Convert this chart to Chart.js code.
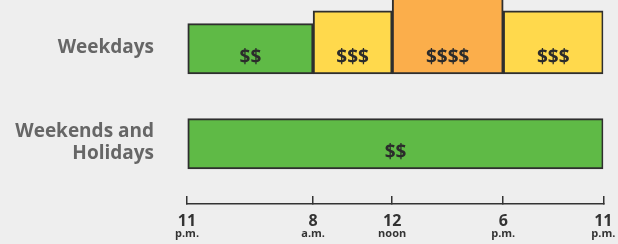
<!DOCTYPE html>
<html>
<head>
<meta charset="utf-8">
<script src="https://cdn.jsdelivr.net/npm/chart.js@4.4.1/dist/chart.umd.min.js"></script>
<style>
  html, body { margin: 0; padding: 0; background: #eeeeee; }
  #wrap { width: 618px; height: 244px; }
</style>
</head>
<body>
<div id="wrap"><canvas id="priceChart" width="618" height="244"></canvas></div>
<script>
// rows of the chart
const rowLabels = ['Weekdays', ['Weekends and', 'Holidays']];

// price segments: hours are counted from 11 p.m.
const segmentRow   = [0, 0, 0, 0, 1];
const segmentStart = [0, 9, 13, 19, 0];
const segmentEnd   = [9, 13, 19, 24, 24];
const segmentLevel = [2, 3, 4, 3, 2];   // number of $ signs

// x axis ticks
const tickHours   = [0, 9, 13, 19, 24];
const tickNumbers = ['11', '8', '12', '6', '11'];
const tickPeriods = ['p.m.', 'a.m.', 'noon', 'p.m.', 'p.m.'];

// layout of the rows (y axis units)
const rowBase = [10.2, 2.75];
const levelColors = { 2: '#5fba46', 3: '#ffd94c', 4: '#fbae4b' };
function barHeight(level) { return level + 1.95; }

// linear scale whose segments between ticks can have their own widths
class PiecewiseScale extends Chart.LinearScale {
    getPixelForValue(value) {
        const stops = this.options.stops;
        const fracs = this.options.fractions;
        let i = 1;
        while (i < stops.length - 1 && value > stops[i]) i++;
        const t = (value - stops[i - 1]) / (stops[i] - stops[i - 1]);
        return this.getPixelForDecimal(fracs[i - 1] + t * (fracs[i] - fracs[i - 1]));
    }
}
PiecewiseScale.id = 'piecewise';
PiecewiseScale.defaults = {};
Chart.register(PiecewiseScale);

const axisFractions = [0, 0.3029, 0.4928, 0.7596, 1];

// writes the $ labels inside the bars
const priceLabels = {
    id: 'priceLabels',
    afterDatasetsDraw(chart) {
        const ctx = chart.ctx;
        ctx.save();
        ctx.font = 'bold 19px "Open Sans"';
        ctx.fillStyle = '#2b2b2b';
        ctx.textAlign = 'center';
        ctx.textBaseline = 'middle';
        chart.data.datasets.forEach(function(ds, i) {
            const bar = chart.getDatasetMeta(i).data[0];
            const p = bar.getProps(['x', 'y', 'base', 'height'], true);
            ctx.fillText(ds.label, (p.x + p.base) / 2, p.y + p.height / 2 - 16);
        });
        ctx.restore();
    }
};

function fixX(scale, h) {
    scale.height = h;
    scale.paddingLeft = 0;
    scale.paddingRight = 0;
}

const datasets = segmentStart.map(function(start, i) {
    const level = segmentLevel[i];
    const h = barHeight(level);
    return {
        label: '$'.repeat(level),
        data: [{ x: [start, segmentEnd[i]], y: rowBase[segmentRow[i]] + h / 2 }],
        backgroundColor: levelColors[level],
        borderColor: '#2e2e2e',
        borderWidth: 2,
        borderSkipped: false,
        grouped: false,
        barThickness: function(ctx) {
            const y = ctx.chart.scales.y;
            return Math.abs(y.getPixelForValue(0) - y.getPixelForValue(h));
        }
    };
});

var ctx = document.getElementById('priceChart').getContext('2d');
var priceChart = new Chart(ctx, {
    type: 'bar',
    data: { datasets: datasets },
    plugins: [priceLabels],
    options: {
        indexAxis: 'y',
        responsive: false,
        animation: false,
        devicePixelRatio: 1,
        layout: { padding: { left: 0, right: 14.7, top: 0, bottom: 0 } },
        plugins: { legend: { display: false }, tooltip: { enabled: false } },
        scales: {
            y: {
                type: 'linear',
                min: 0,
                max: 16,
                offset: false,
                afterBuildTicks: function(s) {
                    s.ticks = rowBase.map(v => ({ value: v + 2.08 }));
                },
                afterFit: function(s) {
                    s.width = 187;
                    s.paddingTop = 0;
                    s.paddingBottom = 0;
                },
                grid: { display: false, drawTicks: false },
                border: { display: false },
                ticks: {
                    padding: 33,
                    color: '#666666',
                    font: { family: 'Open Sans', weight: 'bold', size: 19, lineHeight: 1.16 },
                    callback: (v, i) => rowLabels[i]
                }
            },
            x: {
                type: 'piecewise',
                position: 'bottom',
                weight: 0,
                min: 0,
                max: 24,
                stops: tickHours,
                fractions: axisFractions,
                afterBuildTicks: function(s) {
                    s.ticks = tickHours.map(v => ({ value: v }));
                },
                afterFit: s => fixX(s, 22),
                grid: { drawOnChartArea: false, drawTicks: true, tickLength: -8, color: '#333333', lineWidth: 1.5 },
                border: { display: true, color: '#333333', width: 1.5 },
                ticks: {
                    autoSkip: false,
                    maxRotation: 0,
                    padding: 16.5,
                    color: '#333333',
                    font: { family: 'Open Sans', weight: 'bold', size: 16, lineHeight: 1.1 },
                    callback: (v, i) => tickNumbers[i]
                }
            },
            x2: {
                type: 'piecewise',
                axis: 'x',
                position: 'bottom',
                weight: 1,
                min: 0,
                max: 24,
                stops: tickHours,
                fractions: axisFractions,
                afterBuildTicks: function(s) {
                    s.ticks = tickHours.map(v => ({ value: v }));
                },
                afterFit: s => fixX(s, 18),
                grid: { display: false, drawTicks: false },
                border: { display: false },
                ticks: {
                    autoSkip: false,
                    maxRotation: 0,
                    padding: 1.4,
                    color: '#333333',
                    font: { family: 'Open Sans', weight: 'bold', size: 11, lineHeight: 1.2 },
                    callback: (v, i) => tickPeriods[i]
                }
            }
        }
    }
});
</script>
</body>
</html>
